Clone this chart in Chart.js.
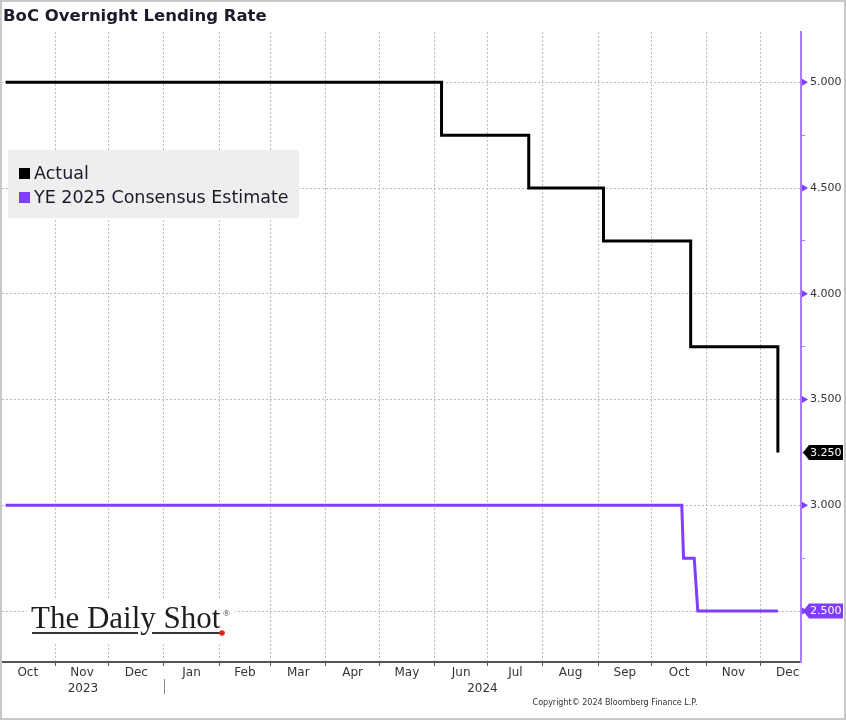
<!DOCTYPE html>
<html><head><meta charset="utf-8">
<script src="https://cdn.jsdelivr.net/npm/chart.js@4.4.1/dist/chart.umd.min.js"></script>
<style>html,body{margin:0;padding:0;background:#fff}#wrap{width:846px;height:720px;position:relative}</style>
</head><body><div id="wrap"><canvas id="c" width="846" height="720"></canvas></div>
<script>
const chartTitle = 'BoC Overnight Lending Rate';
const seriesNames = ['Actual', 'YE 2025 Consensus Estimate'];
const actualDates = ['2023-10-04', '2024-06-05', '2024-07-24', '2024-09-04', '2024-10-23', '2024-12-11'];
const actualValues = [5.00, 4.75, 4.50, 4.25, 3.75, 3.25];
const consensusDates = ['2023-10-04', '2024-10-18', '2024-10-19', '2024-10-25', '2024-10-27', '2024-12-11'];
const consensusValues = [3.00, 3.00, 2.75, 2.75, 2.50, 2.50];
const monthLabels = ['Oct', 'Nov', 'Dec', 'Jan', 'Feb', 'Mar', 'Apr', 'May', 'Jun', 'Jul', 'Aug', 'Sep', 'Oct', 'Nov', 'Dec'];
const monthStarts = ['2023-10-01', '2023-11-01', '2023-12-01', '2024-01-01', '2024-02-01', '2024-03-01', '2024-04-01', '2024-05-01', '2024-06-01', '2024-07-01', '2024-08-01', '2024-09-01', '2024-10-01', '2024-11-01', '2024-12-01', '2025-01-01'];
const yearLabels = ['2023', '2024'];
const yearStarts = ['2024-01-01'];
const yTicks = [2.5, 3.0, 3.5, 4.0, 4.5, 5.0];
const xRange = ['2023-10-02', '2024-12-24'];
const yRange = [2.259, 5.238];
const copyrightText = 'Copyright\u00A9 2024 Bloomberg Finance L.P.';
const logoText = 'The Daily Shot';

const ds = s => { const [y, m, d] = s.split('-').map(Number); return Date.UTC(y, m - 1, d) / 864e5; };
const PURPLE = '#7f3dff';
const PURPLE_AX = '#a97cff';
const GRID = '#bcbcbc';
const FONT = '"DejaVu Sans", Verdana, sans-serif';
const isMajor = v => yTicks.some(u => Math.abs(u - v) < 1e-9);

const decor = {
  id: 'decor',
  beforeDraw(chart) {
    const c = chart.ctx; c.save(); c.fillStyle = '#fff'; c.fillRect(0, 0, chart.width, chart.height); c.restore();
  },
  afterDraw(chart) {
    const c = chart.ctx, xs = chart.scales.x, ys = chart.scales.y, ca = chart.chartArea;
    c.save();
    // title
    c.font = 'bold 16.5px ' + FONT; c.fillStyle = '#1b1b2b'; c.textBaseline = 'middle'; c.textAlign = 'left';
    c.fillText(chartTitle, 3, 17);
    // legend
    c.fillStyle = '#eeeeee'; c.fillRect(8, 150, 291, 68);
    c.font = '17.5px ' + FONT; c.textBaseline = 'middle';
    chart.data.datasets.forEach((d, i) => {
      const cy = 173 + i * 24;
      c.fillStyle = d.borderColor; c.fillRect(19, cy - 5, 11, 11);
      c.fillStyle = '#1a1a2a'; c.fillText(d.label, 34, cy + 1);
    });
    // triangles on major y ticks
    c.fillStyle = PURPLE;
    yTicks.forEach(v => {
      const py = ys.getPixelForValue(v);
      c.beginPath(); c.moveTo(ca.right + 1, py - 3.5); c.lineTo(ca.right + 7, py); c.lineTo(ca.right + 1, py + 3.5); c.closePath(); c.fill();
    });
    // value tags
    const tag = (val, bg) => {
      const py = ys.getPixelForValue(val);
      c.fillStyle = bg; c.beginPath();
      c.moveTo(ca.right + 2, py); c.lineTo(ca.right + 8, py - 7.5); c.lineTo(chart.width - 3, py - 7.5);
      c.lineTo(chart.width - 3, py + 7.5); c.lineTo(ca.right + 8, py + 7.5); c.closePath(); c.fill();
      c.fillStyle = '#fff'; c.font = '11px ' + FONT; c.textAlign = 'left'; c.textBaseline = 'middle';
      c.fillText(val.toFixed(3), ca.right + 9, py + 0.5);
    };
    tag(actualValues[actualValues.length - 1], '#000');
    tag(consensusValues[consensusValues.length - 1], PURPLE);
    // year separator
    const sx = Math.round(xs.getPixelForValue(ds(yearStarts[0]))) + 0.5;
    c.strokeStyle = '#8a8a8a'; c.lineWidth = 1; c.beginPath(); c.moveTo(sx, 679); c.lineTo(sx, 694); c.stroke();
    // logo
    c.fillStyle = '#fff'; c.fillRect(27, 598, 208, 44);
    c.font = '31px "Liberation Serif", "DejaVu Serif", serif'; c.fillStyle = '#1e1e1e'; c.textAlign = 'left'; c.textBaseline = 'alphabetic';
    c.fillText(logoText, 31, 628);
    c.font = '9px "Liberation Serif", serif'; c.fillText('\u00AE', 223, 616);
    c.strokeStyle = '#333'; c.lineWidth = 2;
    c.beginPath(); c.moveTo(32, 633); c.lineTo(138, 633); c.moveTo(152, 633); c.lineTo(220, 633); c.stroke();
    c.fillStyle = '#e8201a'; c.beginPath(); c.arc(222, 633, 2.8, 0, Math.PI * 2); c.fill();
    // copyright
    c.font = '8px ' + FONT; c.fillStyle = '#333'; c.textAlign = 'center'; c.textBaseline = 'middle';
    c.fillText(copyrightText, 615, 703);
    // frame
    c.strokeStyle = '#c8c8c8'; c.lineWidth = 2; c.strokeRect(1, 1, chart.width - 2, chart.height - 2);
    c.restore();
  }
};

new Chart(document.getElementById('c'), {
  type: 'line',
  data: {
    datasets: [
      { label: seriesNames[0], data: actualDates.map((d, i) => ({ x: ds(d), y: actualValues[i] })), borderColor: '#000', backgroundColor: '#000', borderWidth: 3, stepped: true, pointRadius: 0, fill: false, borderJoinStyle: 'miter' },
      { label: seriesNames[1], data: consensusDates.map((d, i) => ({ x: ds(d), y: consensusValues[i] })), borderColor: PURPLE, backgroundColor: PURPLE, borderWidth: 3, pointRadius: 0, fill: false, borderJoinStyle: 'miter' }
    ]
  },
  options: {
    animation: false, responsive: false, maintainAspectRatio: false,
    layout: { padding: { top: 32, left: 2, right: 0, bottom: 0 } },
    plugins: { legend: { display: false }, tooltip: { enabled: false } },
    scales: {
      x: {
        type: 'linear', position: 'bottom', bounds: 'data', min: ds(xRange[0]), max: ds(xRange[1]),
        afterBuildTicks(s) {
          const t = [];
          for (let i = 0; i < monthLabels.length; i++) {
            const a = ds(monthStarts[i]), b = ds(monthStarts[i + 1]);
            if (a >= s.min && a <= s.max) t.push({ value: a, kind: 'b', text: '' });
            t.push({ value: (a + b) / 2, kind: 'm', text: monthLabels[i] });
          }
          t.sort((p, q) => p.value - q.value);
          s.ticks = t;
        },
        afterFit(s) { s.height = 20; },
        ticks: { autoSkip: false, maxRotation: 0, minRotation: 0, padding: 0, color: '#333', font: { family: FONT, size: 12 }, callback: (v, i, t) => t[i].text },
        grid: {
          color: ctx => (ctx.tick && ctx.tick.kind === 'b') ? GRID : 'rgba(0,0,0,0)',
          tickColor: ctx => (ctx.tick && ctx.tick.kind === 'b') ? '#555' : 'rgba(0,0,0,0)',
          tickLength: 4, lineWidth: 1
        },
        border: { color: '#555', width: 2, dash: [2, 2] }
      },
      x2: {
        type: 'linear', position: 'bottom', bounds: 'data', min: ds(xRange[0]), max: ds(xRange[1]),
        afterBuildTicks(s) {
          const b = [s.min].concat(yearStarts.map(ds), [s.max]);
          s.ticks = yearLabels.map((l, i) => ({ value: (b[i] + b[i + 1]) / 2, text: l }));
        },
        afterFit(s) { s.height = 38; },
        grid: { display: false, drawTicks: false }, border: { display: false },
        ticks: { autoSkip: false, maxRotation: 0, minRotation: 0, padding: 0, color: '#333', font: { family: FONT, size: 12 }, callback: (v, i, t) => t[i].text }
      },
      y: {
        type: 'linear', position: 'right', min: yRange[0], max: yRange[1],
        afterBuildTicks(s) {
          const t = [];
          for (let v = yTicks[0]; v <= yTicks[yTicks.length - 1] + 1e-9; v += 0.25) t.push({ value: +v.toFixed(2) });
          s.ticks = t;
        },
        afterFit(s) { s.width = 45; },
        ticks: { autoSkip: false, padding: 5, color: '#333', font: { family: FONT, size: 11 }, callback: v => isMajor(v) ? v.toFixed(3) : '' },
        grid: {
          color: ctx => (ctx.tick && isMajor(ctx.tick.value)) ? GRID : 'rgba(0,0,0,0)',
          tickColor: PURPLE_AX, tickLength: 4, lineWidth: 1
        },
        border: { color: PURPLE_AX, width: 2, dash: [2, 2] }
      }
    }
  },
  plugins: [decor]
});
</script>
</body></html>
